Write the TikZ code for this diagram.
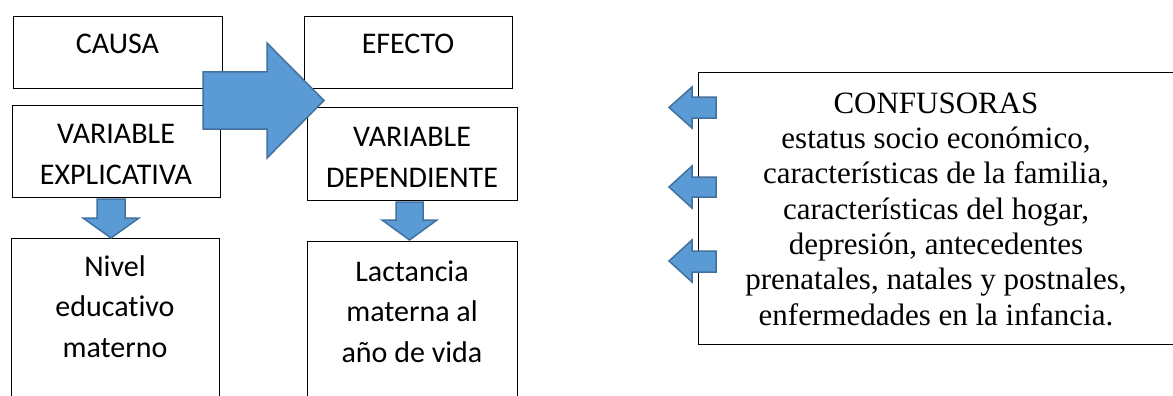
\documentclass[tikz,border=0pt]{standalone}
\usepackage{fontspec}
\setmainfont{Liberation Serif}
\newfontfamily\carlito[Ligatures=NoCommon]{Carlito}
\definecolor{arrfill}{HTML}{5B9BD5}
\definecolor{arrdraw}{HTML}{41719C}
\begin{document}
\begin{tikzpicture}[x=1pt,y=-1pt,
  box/.style={draw=black, line width=1.2pt, fill=white, anchor=north west, inner sep=0pt},
  sanslbl/.style={font=\carlito\fontsize{30}{40.5}\selectfont, align=center, anchor=base, inner sep=0pt},
  seriflbl/.style={font=\fontsize{31}{35.33}\selectfont, align=center, anchor=base, inner sep=0pt},
  blockarrow/.style={fill=arrfill, draw=arrdraw, line width=1.5pt, line join=miter}]
\useasboundingbox (0,0) rectangle (1173,396);
% boxes
\node[box, minimum width=209pt, minimum height=72pt] (causa) at (13,16) {};
\node[box, minimum width=208pt, minimum height=92pt] (explic) at (12,105) {};
\node[box, minimum width=208pt, minimum height=182pt] (nivel) at (11,238) {};
\node[box, minimum width=208pt, minimum height=72pt] (efecto) at (304,16) {};
\node[box, minimum width=210pt, minimum height=93pt] (dep) at (307,107) {};
\node[box, minimum width=210pt, minimum height=179pt] (lact) at (307,241) {};
\node[box, minimum width=478pt, minimum height=272pt] (conf) at (698,72) {};
% texts (anchor = baseline of the last line)
\node[sanslbl] (tcausa) at (117.5,54) {CAUSA};
\node[sanslbl] (texplic) at (116,184) {VARIABLE\\EXPLICATIVA};
\node[sanslbl] (tnivel) at (115,357) {Nivel\\educativo\\materno};
\node[sanslbl] (tefecto) at (408,54) {EFECTO};
\node[sanslbl] (tdep) at (412,187) {VARIABLE\\DEPENDIENTE};
\node[sanslbl] (tlact) at (412,362) {Lactancia\\materna al\\año de vida};
\node[seriflbl] (tconf) at (936,325) {CONFUSORAS\\estatus socio económico,\\características de la familia,\\características del hogar,\\depresión, antecedentes\\prenatales, natales y postnales,\\enfermedades en la infancia.};
% big arrow
\draw[blockarrow] (203,72) -- (267,72) -- (267,43) -- (324,100.5) -- (267,158) -- (267,129) -- (203,129) -- cycle;
% down arrows
\draw[blockarrow] (97,199) -- (125,199) -- (125,218) -- (139,218) -- (111,238) -- (83,218) -- (97,218) -- cycle;
\draw[blockarrow] (396,202) -- (423,202) -- (423,220) -- (437,220) -- (409.5,240) -- (382,220) -- (396,220) -- cycle;
% left arrows
\draw[blockarrow] (716,97) -- (692,97) -- (692,87) -- (669,107.5) -- (692,128) -- (692,118) -- (716,118) -- cycle;
\draw[blockarrow] (716,177) -- (692,177) -- (692,166) -- (669,187) -- (692,208) -- (692,197) -- (716,197) -- cycle;
\draw[blockarrow] (716,251) -- (692,251) -- (692,240) -- (669,261) -- (692,282) -- (692,272) -- (716,272) -- cycle;
\end{tikzpicture}
\end{document}
